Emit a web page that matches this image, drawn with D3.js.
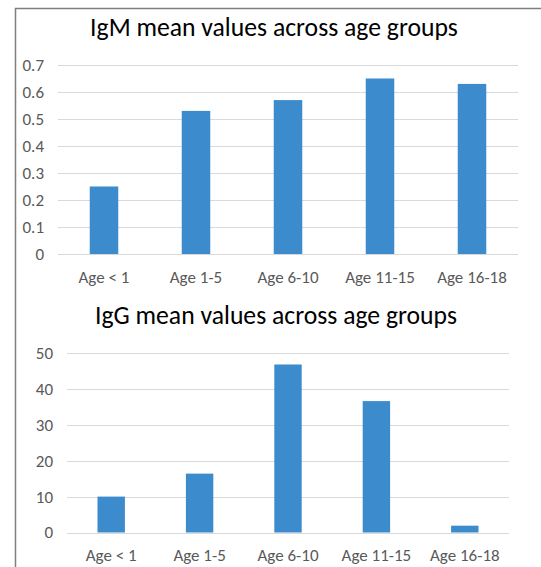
<!DOCTYPE html>
<html>
<head>
<meta charset="utf-8">
<script src="https://cdn.jsdelivr.net/npm/d3@7"></script>
<style>
  body { margin: 0; background: #fff; }
  svg { display: block; font-family: Carlito, "Open Sans", sans-serif; }
</style>
</head>
<body>
<div id="vis-container"></div>
<script>
// data
var ageGroups = ["Age < 1", "Age 1-5", "Age 6-10", "Age 11-15", "Age 16-18"];
var igmValues = [0.25, 0.53, 0.57, 0.65, 0.63];
var iggValues = [10, 16.4, 46.8, 36.6, 1.9];
var igmTicks = [0, 0.1, 0.2, 0.3, 0.4, 0.5, 0.6, 0.7];
var iggTicks = [0, 10, 20, 30, 40, 50];

var width = 541, height = 567;
var barColor = "#3c8bcd";

var svg = d3.select("#vis-container")
  .append("svg")
  .attr("width", width)
  .attr("height", height);

// frame of the picture
svg.append("path")
  .attr("d", "M15.5,567 V8.5 H541")
  .attr("fill", "none")
  .attr("stroke", "#7f7f7f")
  .attr("stroke-width", 1.5);

function drawChart(opts) {
  var x = d3.scaleBand().domain(ageGroups).range([opts.left, opts.right]).paddingInner(0.69).paddingOuter(0.345);
  var y = d3.scaleLinear().domain([0, opts.max]).range([opts.bottom, opts.top]);

  svg.append("text")
    .attr("x", opts.titleX)
    .attr("y", opts.titleY)
    .attr("text-anchor", "middle")
    .attr("font-size", 25.7)
    .attr("fill", "#000")
    .text(opts.title);

  // grid lines
  svg.append("g").selectAll("line")
    .data(opts.ticks)
    .join("line")
    .attr("x1", opts.left)
    .attr("x2", opts.right)
    .attr("y1", function(d) { return Math.round(y(d)) + 0.5; })
    .attr("y2", function(d) { return Math.round(y(d)) + 0.5; })
    .attr("stroke", "#d9d9d9")
    .attr("stroke-width", 1);

  // y labels
  svg.append("g").selectAll("text")
    .data(opts.ticks)
    .join("text")
    .attr("x", opts.left - 14)
    .attr("y", function(d) { return y(d); })
    .attr("dy", "0.35em")
    .attr("text-anchor", "end")
    .attr("font-size", 17)
    .attr("fill", "#595959")
    .text(function(d) { return d; });

  // bars
  svg.append("g").selectAll("rect")
    .data(opts.values)
    .join("rect")
    .attr("x", function(d, i) { return x(ageGroups[i]); })
    .attr("width", x.bandwidth())
    .attr("y", function(d) { return y(d); })
    .attr("height", function(d) { return y(0) - y(d); })
    .attr("fill", barColor);

  // x labels
  svg.append("g").selectAll("text")
    .data(ageGroups)
    .join("text")
    .attr("x", function(d) { return x(d) + x.bandwidth() / 2; })
    .attr("y", opts.bottom + 23)
    .attr("dy", "0.35em")
    .attr("text-anchor", "middle")
    .attr("font-size", 17)
    .attr("fill", "#595959")
    .text(function(d) { return d; });
}

drawChart({
  title: "IgM mean values across age groups", titleX: 274, titleY: 36,
  values: igmValues, ticks: igmTicks, max: 0.7,
  left: 58, right: 518, top: 65, bottom: 254
});

drawChart({
  title: "IgG mean values across age groups", titleX: 276, titleY: 324,
  values: iggValues, ticks: iggTicks, max: 50,
  left: 67, right: 509, top: 353, bottom: 532.5
});
</script>
</body>
</html>
